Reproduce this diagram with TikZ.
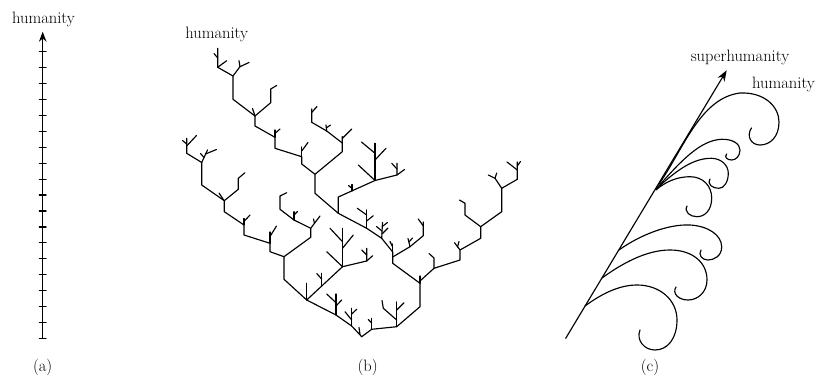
\documentclass[tikz,border=0pt]{standalone}
\usetikzlibrary{arrows.meta}
\begin{document}
\begin{tikzpicture}[x=1pt,y=-1pt,
  ln/.style={line width=1.15pt,line cap=round,line join=round},
  lbl/.style={inner sep=0pt,font=\fontsize{16.5}{20}\selectfont}]
\useasboundingbox (0,0) rectangle (823,382);
% ---------------- panel (a)
\coordinate (abot) at (42.7,338.3);
\coordinate (atop) at (42.7,31.7);
\draw[ln,-{Stealth[length=10pt,width=7.5pt]}] (abot) -- (atop);
\foreach \k in {0,...,18}{
  \pgfmathsetmacro{\yy}{51.7+15.93*\k}
  \draw[ln] (39.3,\yy) -- (46.1,\yy);
}
\node[lbl,anchor=base] (ha) at (43.5,23.5) {humanity};
\node[lbl] (la) at (42.7,367) {(a)};
% ---------------- panel (b)
\node[lbl,anchor=base] (hb) at (216.7,38.3) {humanity};
\node[lbl] (lb) at (367.7,367) {(b)};
\begin{scope}[ln]
% right spine
\draw (361.7,336.7) -- (371.7,329.3) -- (396.7,326.7) -- (420,306.7) -- (420,283.3) -- (392.7,263.3) -- (392.7,252) -- (381.7,238.3) -- (366.7,228.3) -- (338.3,213.3) -- (315,193.3) -- (315,174.3) -- (301.7,164) -- (301.7,156.7) -- (275,148.3) -- (275,137.3) -- (255,126) -- (255,116) -- (233,99.3) -- (233,76);
% top Y
\draw (233,76) -- (217.7,67.3) -- (217.7,48.3);
\draw (233,76) -- (240,66.7) -- (249,62.5);
\draw (240,66.7) -- (239,60.7);
\draw (217.7,67.3) -- (226.7,60.7);
\draw (217.7,58) -- (214,53.5);
% upper spine twigs
\draw (255,116) -- (252.5,108.5);
\draw (255,116) -- (270.7,102.7) -- (270.7,89) -- (276.7,85.5);
\draw (275,137.3) -- (275,130); \draw (275,133.5) -- (280,129);
\draw (301.7,156.7) -- (301.7,147); \draw (301.7,151) -- (308,142.5);
% branch at (315,174.3)
\draw (315,174.3) -- (342.3,151.7) -- (342.3,136.5);
\draw (342.3,143) -- (326.7,131) -- (311.7,122.3) -- (311.7,109);
\draw (342.3,138.5) -- (351.7,129);
\draw (326.7,131) -- (326,125); \draw (326.3,128) -- (330.5,125);
\draw (311.7,112.5) -- (317,106.5);
% branch at (338.3,213.3) : Q subtree
\draw (338.3,213.3) -- (338.3,197) -- (375,180.5);
\draw (352,191) -- (352,184.5); \draw (352,188.5) -- (348.5,185.5);
\draw (375,180.5) -- (375,143.3);
\draw (358.3,165) -- (375,180.5);
\draw (375,160) -- (386,148.3);
\draw (375,153.3) -- (361.5,142);
\draw (375,180.5) -- (397,175) -- (397,163.3);
\draw (397,175) -- (404.5,169.5);
\draw (397,169) -- (391.7,163.3);
% small subtrees on lower right spine
\draw (366.7,228.3) -- (366.7,210); \draw (366.7,215) -- (357.3,208.3); \draw (366.7,221) -- (373.3,215.7);
\draw (381.7,238.3) -- (382.5,222.5); \draw (382,231) -- (376.5,226.5); \draw (382,234) -- (388,228); \draw (382.3,226.5) -- (387.5,222.5);
\draw (392.7,252) -- (392.7,244); \draw (392.7,247) -- (390,241.5);
\draw (392.7,257) -- (410,246.7) -- (423.3,235.7) -- (423.3,222);
\draw (423.3,226) -- (418.3,219);
\draw (410,246.7) -- (408,238.5); \draw (409,242) -- (412.5,238);
% near root
\draw (360,334.5) -- (359,327.5);
\draw (371.7,329.3) -- (371.7,318.3); \draw (371.7,323) -- (368.3,319.5);
\draw (396.7,326.7) -- (396.7,302);
\draw (396.7,320) -- (383.3,308.3) -- (382,300.5);
\draw (396.7,310) -- (404,302.7);
\draw (420,283.3) -- (420,276);
% right subtree
\draw (420,281) -- (434,268.3) -- (460,260) -- (460,250) -- (480.7,238.3) -- (480.7,226.7) -- (501.7,211.7) -- (501.7,188.3) -- (517.3,179.3) -- (517.3,162);
\draw (434,268.3) -- (434,258) -- (429,253.5);
\draw (460,250) -- (454.5,242.7); \draw (457.5,247) -- (459,241.5);
\draw (480.7,226.7) -- (465,215) -- (465,203.3) -- (459.5,200);
\draw (501.7,188.3) -- (495,178.3) -- (488.3,175); \draw (495,178.3) -- (496.7,173);
\draw (517.3,170) -- (507,162); \draw (517.3,166) -- (520.5,161.5);
% left spine
\draw (361.7,336.7) -- (351.7,326) -- (336,315) -- (306.7,300) -- (284,279.3) -- (284,256.7) -- (270,251.7) -- (270,243.3) -- (244,235) -- (244,225) -- (224.3,211.7) -- (224.3,200.7) -- (201.7,185) -- (201.7,162.5) -- (186.7,153.3) -- (186.7,138.3);
\draw (186.7,146) -- (196.5,135.5); \draw (186.7,144) -- (182.5,140.5);
\draw (201.7,162.5) -- (207.5,150); \draw (205.5,154) -- (216.5,149.5); \draw (204,157.5) -- (200.5,153.5);
\draw (224.3,200.7) -- (238.3,189.3) -- (238.3,178.3) -- (245,172.7);
\draw (223.8,200.2) -- (219,193);
\draw (244,225) -- (244,218.5); \draw (244,221.5) -- (250,215);
\draw (270,243.3) -- (270,232); \draw (270,236.5) -- (276.5,226);
\draw (284,256.7) -- (310.7,237.3) -- (310.7,228.3) -- (294,220) -- (280,209.3) -- (280,196) -- (286.7,192.7);
\draw (294,220) -- (294,211.7); \draw (294,215) -- (297.5,211.5);
\draw (310.7,228.3) -- (320,216); \draw (314.5,223.3) -- (313.5,219);
\draw (306.7,300) -- (306.7,283.3);
% Q2 subtree
\draw (306.7,300) -- (342.5,266.7);
\draw (321.7,286) -- (321.7,273.3); \draw (321.7,279) -- (316.7,273.5);
\draw (342.5,266.7) -- (342.5,228.3);
\draw (326.7,251.7) -- (342.5,266.7);
\draw (342.5,241.7) -- (330,228.3);
\draw (342.5,248.3) -- (353.3,235);
\draw (342.5,266.7) -- (366.7,261) -- (366.7,248.3);
\draw (366.7,255) -- (361.7,250);
\draw (366.7,261) -- (372.7,255.7);
% small subtrees near root on left spine
\draw (336,315) -- (336,294); \draw (326.7,294) -- (336,302.7); \draw (336,306) -- (341.7,300);
\draw (351.7,326) -- (351.7,308.3); \draw (345,311.7) -- (351.7,320); \draw (351.7,314) -- (356.7,309.3);
\end{scope}
% ---------------- panel (c)
\coordinate (cbot) at (565.7,338.3);
\coordinate (ctop) at (726.7,70.3);
\draw[ln,-{Stealth[length=11pt,width=8pt]}] (cbot) -- (ctop);
\node[lbl,anchor=base] (sh) at (740,61.7) {superhumanity};
\node[lbl,anchor=base west] (hc) at (752,88.3) {humanity};
\node[lbl] (lc) at (650,367) {(c)};
\begin{scope}[ln]
\draw (659,184) .. controls (683,150) and (700,98) .. (740,93) .. controls (765,92) and (779,107) .. (779,122) .. controls (779,137) and (770,145) .. (760,145) .. controls (751,145) and (746,136) .. (751.5,128);
\draw (657,188) .. controls (680,162) and (700,140) .. (721.7,139.3) .. controls (733,139) and (740,144) .. (740,150) .. controls (740,156) and (736,160) .. (731.7,160) .. controls (727,160) and (724,157) .. (726.7,154);
\draw (656,189) .. controls (675,172) and (692,158) .. (711.7,158.3) .. controls (721,158.5) and (728.3,165) .. (728.3,173.3) .. controls (728.3,182) and (724,188.3) .. (719,188.3) .. controls (713,188.3) and (707,185) .. (710,179);
\draw (656,190) .. controls (665,182) and (677,176.7) .. (690,176.7) .. controls (703,176.7) and (711.7,186) .. (711.7,198) .. controls (711.7,210) and (705,216.7) .. (697,216.7) .. controls (690,216.7) and (684,212) .. (687,206);
\draw (619,250) .. controls (640,235) and (668,224) .. (690,225) .. controls (708,226) and (721.7,235) .. (721.7,247) .. controls (721.7,256) and (714,260) .. (708,260) .. controls (702,260) and (698,255) .. (701,250);
\draw (602,278) .. controls (620,265) and (645,250) .. (670,250) .. controls (692,250) and (707,262) .. (707,280) .. controls (707,292) and (698,300) .. (688,300) .. controls (678,300) and (672,293) .. (676,287);
\draw (585,306) .. controls (600,295) and (618,285) .. (637,285) .. controls (660,285) and (677,300) .. (677,320) .. controls (677,338) and (668,350) .. (655,350) .. controls (644,350) and (636,340) .. (640,330);
\end{scope}
\end{tikzpicture}
\end{document}
